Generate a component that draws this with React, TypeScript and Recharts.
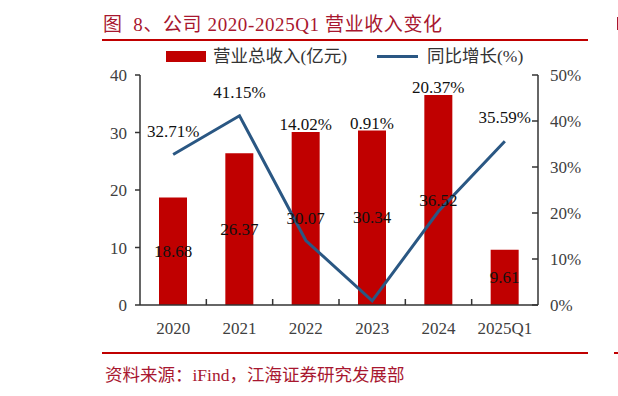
import { ComposedChart, Bar, Line, XAxis, YAxis, LabelList } from 'recharts';

const years = ['2020', '2021', '2022', '2023', '2024', '2025Q1'];
const revenue = [18.68, 26.37, 30.07, 30.34, 36.52, 9.61];
const growth = [32.71, 41.15, 14.02, 0.91, 20.37, 35.59];
const leftTicks = [0, 10, 20, 30, 40];
const rightTicks = [0, 10, 20, 30, 40, 50];

const data = years.map((year, i) => ({ year, revenue: revenue[i], growth: growth[i] }));

const RED = '#C00000';
const BLUE = '#2A5783';
const TITLE_RED = '#A8172F';
const SERIF = '"Liberation Serif", "Times New Roman", "Noto Sans CJK SC", serif';
const LEFT_MAX = 40;
const RIGHT_MAX = 50;

// growth label goes above whichever mark is higher (bar top or line point)
const barIsHigher = (i: number) => revenue[i] / LEFT_MAX >= growth[i] / RIGHT_MAX;

function getBox(p: any) {
  const vb = p.viewBox || {};
  return {
    x: p.x ?? vb.x ?? 0,
    y: p.y ?? vb.y ?? 0,
    w: p.width ?? vb.width ?? 0,
    h: p.height ?? vb.height ?? 0,
  };
}

function BarLabel(props: any) {
  const { index } = props;
  const b = getBox(props);
  const cx = b.x + b.w / 2;
  return (
    <g>
      <text x={cx} y={b.y + b.h / 2} textAnchor="middle" dominantBaseline="central" fontSize={17} fontFamily={SERIF} fill="#111">
        {revenue[index].toFixed(2)}
      </text>
      {barIsHigher(index) && (
        <text x={cx} y={b.y - 2} textAnchor="middle" fontSize={17} fontFamily={SERIF} fill="#111">
          {growth[index].toFixed(2)}%
        </text>
      )}
    </g>
  );
}

function LineLabel(props: any) {
  const { index } = props;
  if (barIsHigher(index)) return null;
  const b = getBox(props);
  return (
    <text x={b.x} y={b.y - 18} textAnchor="middle" fontSize={17} fontFamily={SERIF} fill="#111">
      {growth[index].toFixed(2)}%
    </text>
  );
}

function XTick(props: any) {
  const { x, y, payload, index } = props;
  const half = payload?.offset || 398 / 12;
  return (
    <g>
      <text x={x} y={y + 23} textAnchor="middle" dominantBaseline="central" fontSize={17} fontFamily={SERIF} fill="#404040">
        {payload.value}
      </text>
      {index < years.length - 1 && (
        <line x1={x + half} x2={x + half} y1={y} y2={y - 6} stroke="#333" strokeWidth={1.5} />
      )}
    </g>
  );
}

export default function App() {
  return (
    <div style={{ position: 'absolute', left: 0, top: 0, width: 618, height: 396, background: '#fff', overflow: 'hidden' }}>
      <div style={{ position: 'absolute', left: 103, top: 12, fontFamily: SERIF, fontSize: 19, lineHeight: '26px', letterSpacing: 0.6, color: TITLE_RED, whiteSpace: 'pre' }}>
        {'图  8、公司 2020-2025Q1 营业收入变化'}
      </div>
      <div style={{ position: 'absolute', left: 102, top: 39, width: 486, height: 1.5, background: RED }} />
      <div style={{ position: 'absolute', left: 617, top: 17, width: 2, height: 13, background: TITLE_RED }} />

      <div style={{ position: 'absolute', left: 166, top: 51, width: 40, height: 11, background: RED }} />
      <div style={{ position: 'absolute', left: 213, top: 44, fontFamily: SERIF, fontSize: 17.5, lineHeight: '24px', color: '#333', whiteSpace: 'nowrap' }}>
        营业总收入(亿元)
      </div>
      <div style={{ position: 'absolute', left: 377, top: 55, width: 41, height: 3, background: BLUE }} />
      <div style={{ position: 'absolute', left: 427, top: 44, fontFamily: SERIF, fontSize: 17.5, lineHeight: '24px', color: '#333', whiteSpace: 'nowrap' }}>
        同比增长(%)
      </div>

      <div style={{ position: 'absolute', left: 0, top: 0 }}>
        <ComposedChart width={618} height={396} data={data} margin={{ top: 75, right: 20, bottom: 51, left: 100 }}>
          <XAxis
            dataKey="year"
            height={40}
            tickSize={0}
            tickMargin={0}
            tickLine={false}
            axisLine={{ stroke: '#333', strokeWidth: 1.5 }}
            tick={<XTick />}
            interval={0}
          />
          <YAxis
            yAxisId="left"
            width={40}
            domain={[0, LEFT_MAX]}
            ticks={leftTicks}
            tickSize={5}
            tickMargin={8}
            axisLine={{ stroke: '#333', strokeWidth: 1.5 }}
            tickLine={{ stroke: '#333', strokeWidth: 1.5 }}
            tick={{ fontSize: 17, fontFamily: SERIF, fill: '#404040' }}
          />
          <YAxis
            yAxisId="right"
            orientation="right"
            width={60}
            domain={[0, RIGHT_MAX]}
            ticks={rightTicks}
            tickSize={-6}
            tickMargin={18}
            tickFormatter={(v: number) => `${v}%`}
            axisLine={{ stroke: '#333', strokeWidth: 1.5 }}
            tickLine={{ stroke: '#333', strokeWidth: 1.5 }}
            tick={{ fontSize: 17, fontFamily: SERIF, fill: '#404040' }}
          />
          <Bar yAxisId="left" dataKey="revenue" fill={RED} barSize={28} isAnimationActive={false}>
            <LabelList dataKey="revenue" content={<BarLabel />} />
          </Bar>
          <Line
            yAxisId="right"
            dataKey="growth"
            stroke={BLUE}
            strokeWidth={3}
            dot={false}
            activeDot={false}
            type="linear"
            isAnimationActive={false}
          >
            <LabelList dataKey="growth" content={<LineLabel />} />
          </Line>
        </ComposedChart>
      </div>

      <div style={{ position: 'absolute', left: 102, top: 352, width: 486, height: 1.5, background: RED }} />
      <div style={{ position: 'absolute', left: 614, top: 352, width: 4, height: 1.5, background: RED }} />
      <div style={{ position: 'absolute', left: 105, top: 363, fontFamily: SERIF, fontSize: 17.5, lineHeight: '24px', color: TITLE_RED, whiteSpace: 'nowrap' }}>
        资料来源：iFind，江海证券研究发展部
      </div>
    </div>
  );
}
